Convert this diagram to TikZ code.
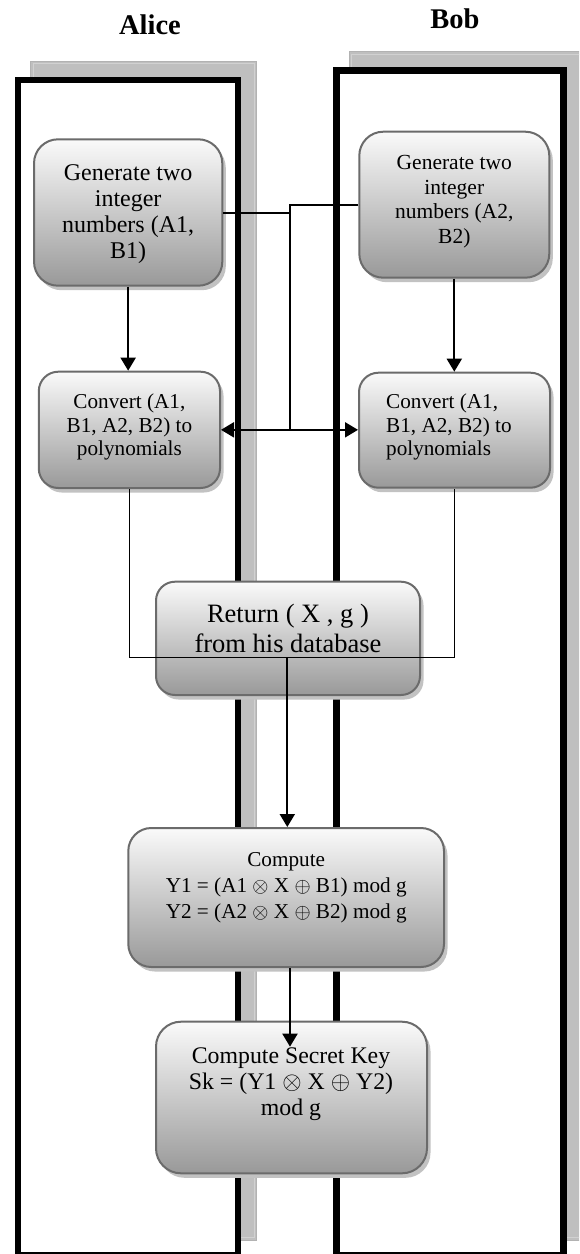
\documentclass[tikz,border=0pt]{standalone}
\usepackage{fontspec}
\setmainfont{Liberation Serif}
\usetikzlibrary{arrows.meta,shadows}
\tikzset{
  lanebox/.style={draw=black, line width=6.7pt, fill=white},
  laneshadow/.style={fill=black!25, draw=black!30, line width=0.8pt},
  laneshadowline/.style={draw=white!82!black, line width=1pt},
  flowbox/.style={draw=black!58, line width=2pt, top color=black!2, bottom color=black!40,
    inner sep=0pt, drop shadow={shadow xshift=3.5pt, shadow yshift=-4.5pt, fill=black!24, opacity=1}},
  boxtext/.style={inner sep=0pt, anchor=north, align=center, text=black},
  conn/.style={draw=black, line width=2pt},
  thinconn/.style={draw=black, line width=1.3pt},
  arrowtip/.style={-{Triangle[length=13pt,width=15pt]}},
  twotips/.style={{Triangle[length=13pt,width=15pt]}-{Triangle[length=13pt,width=15pt]}},
  lanetitle/.style={font=\fontsize{28.5}{32}\selectfont\bfseries, anchor=base, inner sep=0pt}
}
\begin{document}
\begin{tikzpicture}[x=1pt,y=-1pt]
\useasboundingbox (0,0) rectangle (579,1254);
\clip (0,0) rectangle (579,1254);
% lane shadows
\path[laneshadow] (30.6,61) rectangle (256.7,1240);
\path[laneshadowline] (33,63.5) rectangle (254.3,1237.5);
\path[laneshadow] (349.3,51.7) rectangle (582.7,1240);
\path[laneshadowline] (351.7,54.2) rectangle (580.3,1237.5);
% lanes
\draw[lanebox] (18,80) rectangle (238,1255);
\draw[lanebox] (336.7,70.3) rectangle (563.7,1255);
% titles
\node[lanetitle] (alice) at (150,34) {Alice};
\node[lanetitle] (bob) at (455,28.3) {Bob};
% boxes
\node[flowbox, minimum width=188.3pt, minimum height=146.4pt, rounded corners=24pt] (genA) at (128.15,212.5) {};
\node[flowbox, minimum width=190pt, minimum height=146pt, rounded corners=24pt] (genB) at (454.3,204.7) {};
\node[flowbox, minimum width=181.2pt, minimum height=116.3pt, rounded corners=19.5pt] (convA) at (129.4,429.85) {};
\node[flowbox, minimum width=191pt, minimum height=115pt, rounded corners=19.5pt] (convB) at (454.5,430.2) {};
\node[flowbox, minimum width=264pt, minimum height=113.3pt, rounded corners=19pt] (ret) at (288,638.35) {};
\node[flowbox, minimum width=315.7pt, minimum height=139pt, rounded corners=23pt] (comp) at (286.15,897.5) {};
\node[flowbox, minimum width=271pt, minimum height=151.6pt, rounded corners=25pt] (sec) at (291.5,1097.5) {};
% texts
\node[boxtext, font=\fontsize{24}{26.2}\selectfont] (genAt) at (128.15,160) {\rule{0pt}{20pt}Generate two\\integer\\numbers (A1,\\B1)};
\node[boxtext, font=\fontsize{21.5}{24.8}\selectfont] (genBt) at (454.3,149) {\rule{0pt}{20pt}Generate two\\integer\\numbers (A2,\\B2)};
\node[boxtext, font=\fontsize{21.2}{23.6}\selectfont] (convAt) at (129.4,388.3) {\rule{0pt}{20pt}Convert (A1,\\B1, A2, B2) to\\polynomials};
\node[boxtext, anchor=north west, align=left, font=\fontsize{21.2}{23.6}\selectfont] (convBt) at (386,388.3) {\rule{0pt}{20pt}Convert (A1,\\B1, A2, B2) to\\polynomials};
\node[boxtext, font=\fontsize{26.5}{30}\selectfont] (rett) at (288,602.7) {\rule{0pt}{20pt}Return ( X , g )\\from his database};
\node[boxtext, font=\fontsize{21.2}{26}\selectfont] (compt) at (286.2,846) {\rule{0pt}{20pt}Compute\\Y1 = (A1 $\otimes$ X $\oplus$ B1) mod g\\Y2 = (A2 $\otimes$ X $\oplus$ B2) mod g};
\node[boxtext, font=\fontsize{23.8}{25.9}\selectfont] (sect) at (291,1043.3) {\rule{0pt}{20pt}Compute Secret Key\\Sk = (Y1 $\otimes$ X $\oplus$ Y2)\\mod g};
% connectors
\coordinate (j) at (289.7,430);
\draw[conn] (genA.east) -| (j);
\draw[conn] (genB.west) -| (j);
\draw[conn, twotips] (convA.east) -- (convA.east -| convB.west);
\draw[conn, arrowtip] (genA.south) -- (genA.south |- convA.north);
\draw[conn, arrowtip] (genB.south) -- (genB.south |- convB.north);
\coordinate (m) at (287.3,657.7);
\draw[thinconn] (convA.south) |- (m) -| (convB.south);
\draw[conn, arrowtip] (m) -- (m |- comp.north);
\coordinate (k) at (290,1046.7);
\draw[conn, arrowtip] (comp.south -| k) -- (k);
\end{tikzpicture}
\end{document}
